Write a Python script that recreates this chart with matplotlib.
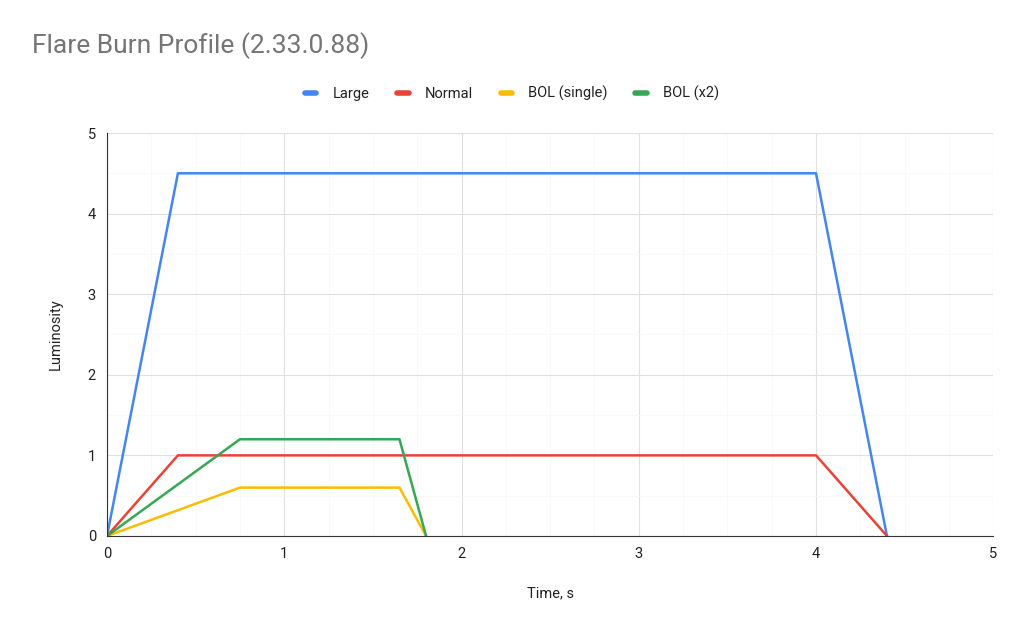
import matplotlib.pyplot as plt
from matplotlib.ticker import MultipleLocator

# burn profiles: time (s) vs luminosity
large_t = [0, 0.4, 4.0, 4.4]
large_y = [0, 4.5, 4.5, 0]
normal_t = [0, 0.4, 4.0, 4.4]
normal_y = [0, 1.0, 1.0, 0]
bol_single_t = [0, 0.75, 1.65, 1.8]
bol_single_y = [0, 0.6, 0.6, 0]
bol_x2_t = [0, 0.75, 1.65, 1.8]
bol_x2_y = [0, 1.2, 1.2, 0]

plt.rcParams['font.family'] = ['Roboto', 'DejaVu Sans']

fig = plt.figure(figsize=(10.24, 6.37), dpi=100)
ax = fig.add_axes([0.1045, 0.1586, 0.8655, 0.6326])

ax.plot(large_t, large_y, color='#4285F4', lw=1.8, label='Large')
ax.plot(normal_t, normal_y, color='#EA4335', lw=1.8, label='Normal')
ax.plot(bol_single_t, bol_single_y, color='#FBBC04', lw=1.8, label='BOL (single)')
ax.plot(bol_x2_t, bol_x2_y, color='#34A853', lw=1.8, label='BOL (x2)')

ax.set_xlim(0, 5)
ax.set_ylim(0, 5)
ax.xaxis.set_major_locator(MultipleLocator(1))
ax.yaxis.set_major_locator(MultipleLocator(1))
ax.xaxis.set_minor_locator(MultipleLocator(0.25))
ax.yaxis.set_minor_locator(MultipleLocator(0.5))
ax.grid(which='major', color='#e0e0e0', lw=0.8)
ax.grid(which='minor', color='#f8f8f8', lw=0.6)
ax.set_axisbelow(True)
ax.tick_params(which='both', length=0, labelsize=10.5, colors='#222222', pad=8)

for s in ['top', 'right']:
    ax.spines[s].set_visible(False)
ax.spines['bottom'].set_color('#333333')
ax.spines['left'].set_color('#333333')

ax.set_xlabel('Time, s', fontsize=10.5, color='#222222', labelpad=18)
ax.set_ylabel('Luminosity', fontsize=10.5, color='#222222', labelpad=18)

fig.text(0.031, 0.928, 'Flare Burn Profile (2.33.0.88)', fontsize=19, color='#757575', va='center')

leg = fig.legend(loc='center', bbox_to_anchor=(0.5, 0.853), ncol=4, frameon=False,
                 fontsize=10.5, handlelength=0.8, handletextpad=1.1, columnspacing=1.9,
                 labelcolor='#222222')
for h in leg.get_lines():
    h.set_linewidth(4)
    h.set_solid_capstyle('round')

plt.savefig('out.png', dpi=100)
